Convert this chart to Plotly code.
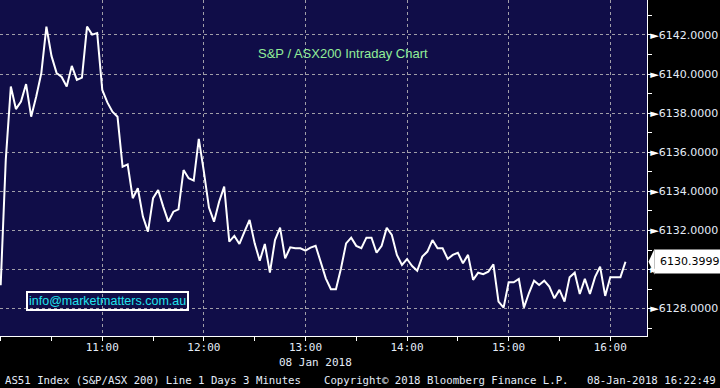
import pandas as pd
import plotly.graph_objects as go

# ---- data ----
session_start = "2018-01-08 10:00"
interval = "3min"
values = [
    6129.20, 6135.60, 6139.36, 6138.21, 6138.59, 6139.49, 6137.82, 6138.85, 6140.05, 6142.43,
    6140.93, 6140.06, 6139.85, 6139.36, 6140.42, 6139.70, 6139.82, 6142.43, 6142.02, 6142.10,
    6139.19, 6138.55, 6138.08, 6137.82, 6135.26, 6135.38, 6133.65, 6134.16, 6132.71, 6131.94,
    6133.65, 6134.07, 6133.22, 6132.45, 6132.96, 6133.08, 6135.09, 6134.67, 6134.55, 6136.68,
    6135.01, 6133.17, 6132.45, 6133.47, 6134.24, 6131.43, 6131.72, 6131.31, 6131.94, 6132.54,
    6131.34, 6130.45, 6131.31, 6129.84, 6131.51, 6132.14, 6130.57, 6131.14, 6131.09, 6131.09,
    6130.97, 6131.12, 6131.22, 6130.40, 6129.55, 6128.99, 6128.99, 6130.07, 6131.34, 6131.63,
    6131.21, 6131.09, 6131.63, 6131.63, 6130.86, 6131.21, 6132.14, 6131.77, 6130.75, 6130.24,
    6130.54, 6130.18, 6129.94, 6130.66, 6130.92, 6131.51, 6131.09, 6131.09, 6130.54, 6130.75,
    6130.86, 6130.32, 6130.75, 6129.47, 6129.84, 6129.76, 6129.89, 6130.27, 6128.36, 6128.05,
    6129.35, 6129.35, 6129.52, 6128.05, 6128.80, 6129.43, 6129.21, 6129.43, 6129.13, 6128.53,
    6128.96, 6128.36, 6129.61, 6129.84, 6128.75, 6129.52, 6128.75, 6129.61, 6130.15, 6128.65,
    6129.61, 6129.61, 6129.61, 6130.3999,
]
last_price = 6130.3999
times = pd.date_range(session_start, periods=len(values), freq=interval)

x_tick_vals = ["2018-01-08 10:00", "2018-01-08 11:00", "2018-01-08 12:00", "2018-01-08 13:00",
               "2018-01-08 14:00", "2018-01-08 15:00", "2018-01-08 16:00"]
x_tick_text = ["", "11:00", "12:00", "13:00", "14:00", "15:00", "16:00"]
y_tick_vals = [6128, 6130, 6132, 6134, 6136, 6138, 6140, 6142]
y_tick_text = ['<span style="color:#ffffff">\u25BA</span>' + f"{v:.4f}" for v in y_tick_vals]

title_text = "S&P / ASX200 Intraday Chart"
contact_text = "info@marketmatters.com.au"
date_text = "08 Jan 2018"
footer_left = "AS51 Index (S&P/ASX 200) Line 1 Days 3 Minutes"
footer_mid = "Copyright\u00a9 2018 Bloomberg Finance L.P."
footer_right = "08-Jan-2018 16:22:49"

# ---- figure ----
PW, PH = 647, 336
label_col = "#e4ecf8"
mono = "DejaVu Sans Mono"

fig = go.Figure()
fig.add_trace(go.Scatter(x=times, y=values, mode="lines",
                         line=dict(color="white", width=2), hoverinfo="skip"))

fig.update_layout(
    width=720, height=388,
    margin=dict(l=0, r=720 - PW, t=0, b=388 - PH),
    paper_bgcolor="black", plot_bgcolor="#100d48",
    showlegend=False,
    xaxis=dict(
        type="date",
        range=["2018-01-08 09:59:36", "2018-01-08 16:21:42"],
        tickmode="array", tickvals=x_tick_vals, ticktext=x_tick_text,
        ticks="outside", ticklen=4, tickcolor="white", tickwidth=1,
        ticklabelstandoff=-3,
        tickfont=dict(family=mono, size=11, color=label_col),
        showline=True, linecolor="white", linewidth=1,
        showgrid=True, gridcolor="#a09ea8", griddash="dot", gridwidth=1,
        minor=dict(dtick=30 * 60 * 1000, tick0="2018-01-08 10:00", ticks="outside",
                   ticklen=4, tickcolor="white", showgrid=False),
        zeroline=False, fixedrange=True,
    ),
    yaxis=dict(
        side="right",
        range=[6126.60, 6143.79],
        tickmode="array", tickvals=y_tick_vals, ticktext=y_tick_text,
        ticks="", tickfont=dict(family="DejaVu Sans", size=11, color=label_col),
        showline=True, linecolor="white", linewidth=1,
        showgrid=True, gridcolor="#a09ea8", griddash="dot", gridwidth=1,
        minor=dict(dtick=1, tick0=6127, ticks="outside", ticklen=4,
                   tickcolor="white", showgrid=False),
        zeroline=False, fixedrange=True,
    ),
)

ann = []
ann.append(dict(text=title_text, xref="paper", yref="paper", x=343 / PW, y=1 - 53.5 / PH,
                showarrow=False, xanchor="center", yanchor="middle",
                font=dict(family="Liberation Sans", size=13, color="#92ee98")))
ann.append(dict(text=contact_text, xref="paper", yref="paper", x=107.7 / PW, y=1 - 301 / PH,
                showarrow=False, xanchor="center", yanchor="middle",
                bordercolor="white", borderwidth=2, borderpad=1,
                font=dict(family="Liberation Sans", size=12.5, color="#22e4ee")))
ann.append(dict(text=date_text, xref="paper", yref="paper", x=315.7 / PW, y=-(362 - PH) / PH,
                showarrow=False, xanchor="center", yanchor="middle",
                font=dict(family=mono, size=11, color=label_col)))
ann.append(dict(text=footer_left, xref="paper", yref="paper", x=2.5 / PW, y=-(380 - PH) / PH,
                showarrow=False, xanchor="left", yanchor="middle",
                font=dict(family=mono, size=10.7, color=label_col)))
ann.append(dict(text=footer_mid, xref="paper", yref="paper", x=321.5 / PW, y=-(380 - PH) / PH,
                showarrow=False, xanchor="left", yanchor="middle",
                font=dict(family=mono, size=10.7, color=label_col)))
ann.append(dict(text=footer_right, xref="paper", yref="paper", x=718 / PW, y=-(380 - PH) / PH,
                showarrow=False, xanchor="right", yanchor="middle",
                font=dict(family=mono, size=10.7, color=label_col)))
ann.append(dict(text=f"{last_price:.4f}", xref="paper", yref="y", x=654 / PW, y=values[-1],
                showarrow=False, xanchor="left", yanchor="middle",
                bgcolor="white", borderpad=5,
                font=dict(family="DejaVu Sans", size=11, color="black")))
fig.update_layout(annotations=ann)

# pointer on the left of the last-price label
h = 13 / 19.55
fig.add_shape(type="path", xref="paper", yref="y",
              path=f"M {648.5 / PW},{values[-1]} L {654.5 / PW},{values[-1] + h} "
                   f"L {654.5 / PW},{values[-1] - h} Z",
              fillcolor="white", line=dict(width=0))

fig.write_html("out.html")
